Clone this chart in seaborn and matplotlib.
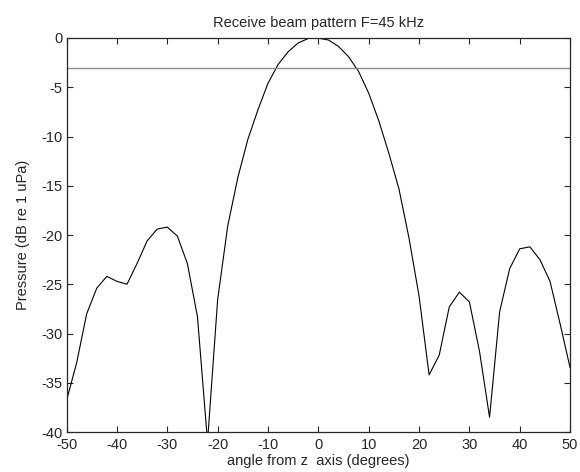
import seaborn as sns
import matplotlib.pyplot as plt
import numpy as np
import pandas as pd

# angles (degrees) and received pressure level (dB)
angle = list(range(-50, 52, 2))
pressure = [-36.8, -33.0, -28.0, -25.4, -24.2, -24.7, -25.0, -22.9, -20.6, -19.4,
            -19.2, -20.1, -22.9, -28.3, -41.0, -26.6, -19.1, -14.2, -10.3, -7.3,
            -4.6, -2.7, -1.4, -0.5, -0.05, -0.02, -0.2, -0.85, -1.9, -3.4,
            -5.6, -8.4, -11.7, -15.3, -20.3, -26.2, -34.2, -32.2, -27.3, -25.8,
            -26.8, -31.8, -38.5, -27.8, -23.4, -21.4, -21.2, -22.5, -24.7, -29.0,
            -33.5]
half_power = -3

xticks = [-50, -40, -30, -20, -10, 0, 10, 20, 30, 40, 50]
yticks = [0, -5, -10, -15, -20, -25, -30, -35, -40]

df = pd.DataFrame({'angle': angle, 'pressure': pressure})

sns.set_style('ticks')
plt.rcParams['font.family'] = ['Liberation Sans', 'DejaVu Sans']
plt.rcParams['axes.unicode_minus'] = False
plt.rcParams['xtick.direction'] = 'in'
plt.rcParams['ytick.direction'] = 'in'

fig = plt.figure(figsize=(5.8, 4.72), dpi=100)
ax = fig.add_axes([0.1147, 0.0847, 0.983 - 0.1147, 0.9195 - 0.0847])

sns.lineplot(data=df, x='angle', y='pressure', ax=ax, color='black', linewidth=0.8)
ax.axhline(half_power, color='#8c8c8c', linewidth=1.0)

ax.set_xlim(-50, 50)
ax.set_ylim(-40, 0)
ax.set_xticks(xticks)
ax.set_yticks(yticks)
ax.tick_params(top=True, right=True, labelsize=10.5, length=4, width=0.8)
ax.tick_params(axis='x', pad=4)
ax.tick_params(axis='y', pad=3)
for s in ax.spines.values():
    s.set_linewidth(0.9)
    s.set_visible(True)

ax.set_title('Receive beam pattern F=45 kHz', fontsize=10.5, pad=8)
ax.set_xlabel('angle from z  axis (degrees)', fontsize=10.5, labelpad=2)
ax.set_ylabel('Pressure (dB re 1 uPa)', fontsize=10.5, labelpad=8)

fig.savefig('out.png', dpi=100)
